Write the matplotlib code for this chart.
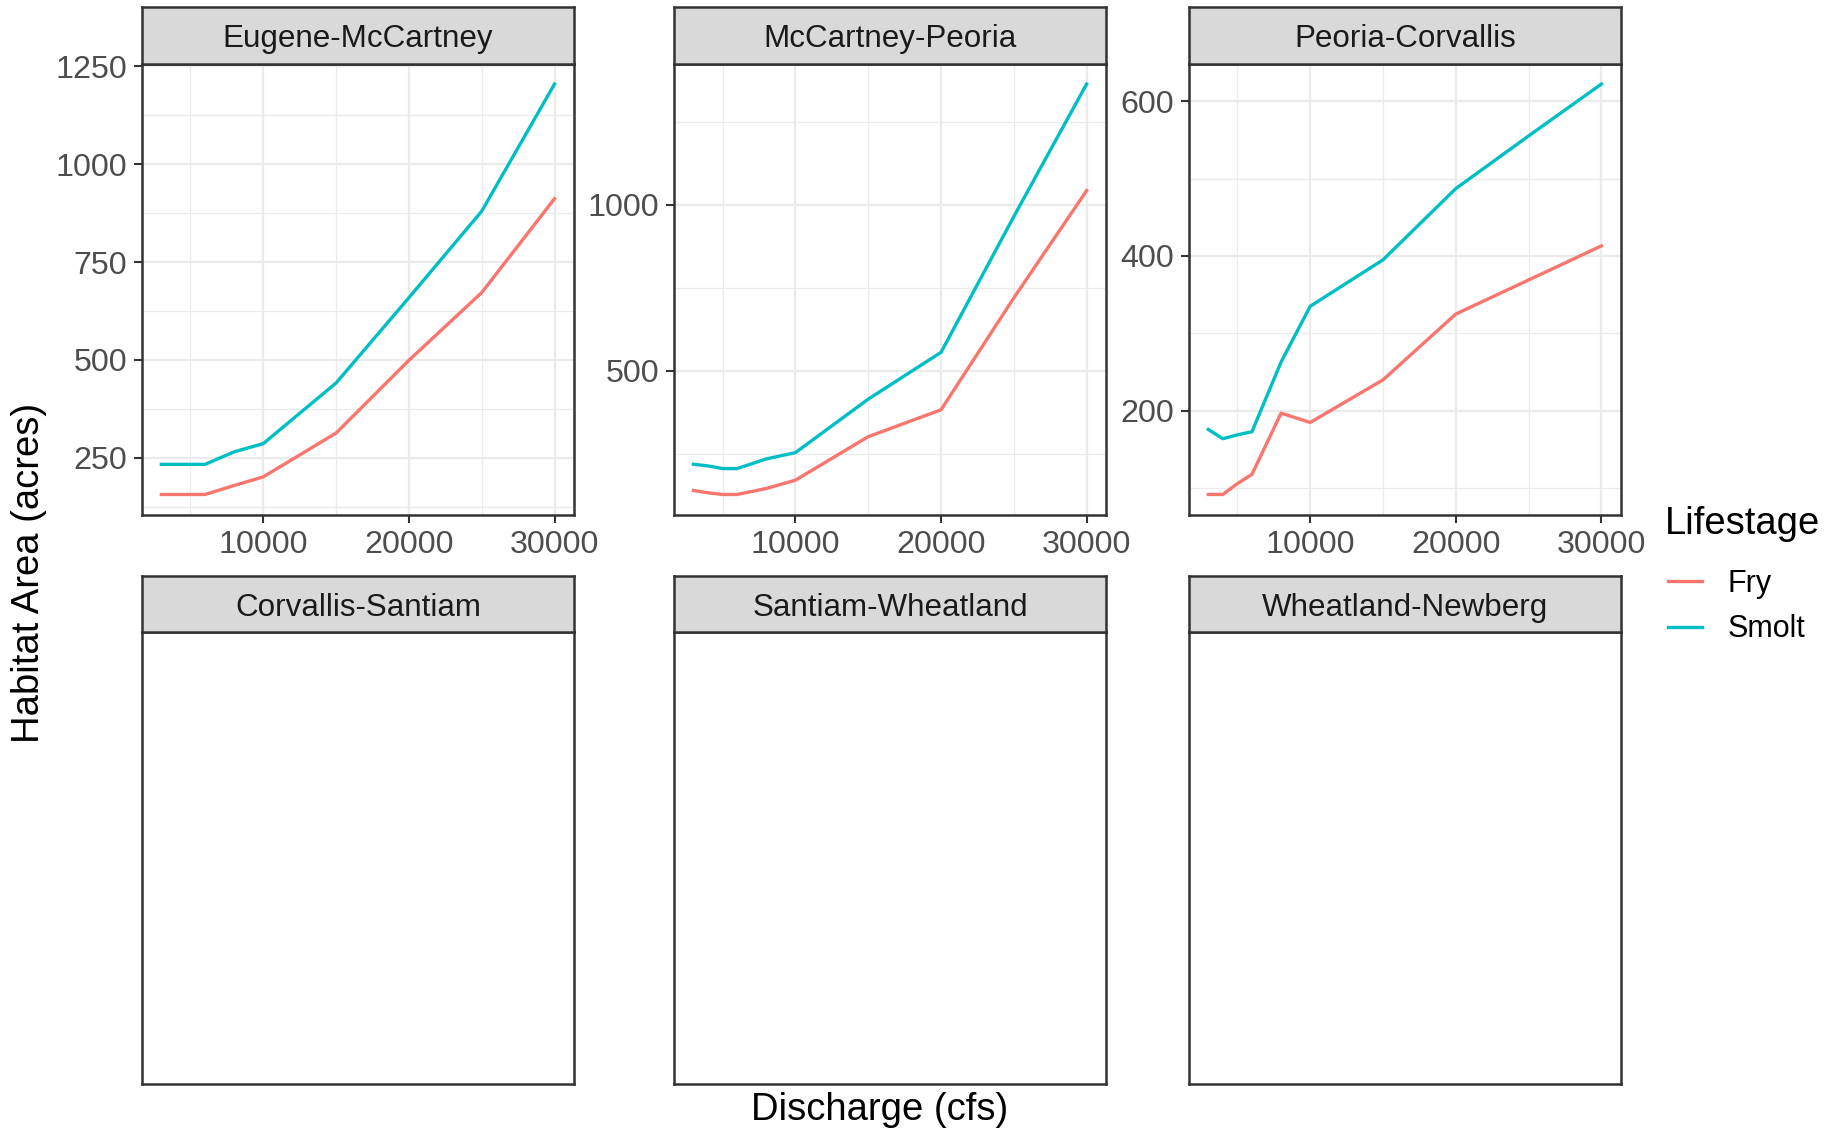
import matplotlib
matplotlib.use("Agg")
import matplotlib.pyplot as plt
from matplotlib.ticker import MultipleLocator, AutoMinorLocator
from matplotlib.lines import Line2D

plt.rcParams['font.family'] = ['Liberation Sans', 'DejaVu Sans']

# discharge steps (cfs)
discharge = [3000, 4000, 5000, 6000, 8000, 10000, 15000, 20000, 25000, 30000]

reaches = ["Eugene-McCartney", "McCartney-Peoria", "Peoria-Corvallis",
           "Corvallis-Santiam", "Santiam-Wheatland", "Wheatland-Newberg"]

# habitat area (acres), only the first three reaches have data
fry_eugene = [156, 156, 156, 156, 179, 201, 313, 499, 672, 912]
smolt_eugene = [233, 233, 233, 233, 265, 286, 441, 659, 880, 1205]
fry_mccartney = [140, 133, 128, 128, 146, 171, 302, 383, 720, 1043]
smolt_mccartney = [219, 214, 206, 206, 235, 254, 415, 556, 965, 1364]
fry_peoria = [92, 92, 106, 118, 197, 185, 240, 325, 369, 413]
smolt_peoria = [176, 164, 169, 173, 263, 335, 395, 487, 555, 622]

fry_data = [fry_eugene, fry_mccartney, fry_peoria, None, None, None]
smolt_data = [smolt_eugene, smolt_mccartney, smolt_peoria, None, None, None]
y_steps = [250, 500, 200]

c_fry = '#F8766D'
c_smolt = '#00BFC4'
border = '#333333'

W, H = 1843, 1131
fig = plt.figure(figsize=(W / 100, H / 100), dpi=100)


def box(left, top, w, h):
    return [left / W, 1 - (top + h) / H, w / W, h / H]


col_left = [141.7, 673.8, 1188.6]
row_top = [63.5, 632]
pw, ph = 432.5, 451.5
strip_h = 56.5

for i, name in enumerate(reaches):
    r, c = divmod(i, 3)
    ax = fig.add_axes(box(col_left[c], row_top[r], pw, ph))
    for s in ax.spines.values():
        s.set_color(border)
        s.set_linewidth(1.8)
    if fry_data[i] is not None:
        ax.plot(discharge, fry_data[i], color=c_fry, lw=2.4)
        ax.plot(discharge, smolt_data[i], color=c_smolt, lw=2.4)
        ax.xaxis.set_major_locator(MultipleLocator(10000))
        ax.xaxis.set_minor_locator(AutoMinorLocator(2))
        ax.yaxis.set_major_locator(MultipleLocator(y_steps[c]))
        ax.yaxis.set_minor_locator(AutoMinorLocator(2))
        ax.grid(which='major', color='#EBEBEB', lw=1.6)
        ax.grid(which='minor', color='#EBEBEB', lw=0.9)
        ax.set_axisbelow(True)
        ax.tick_params(which='major', length=5.5, width=1.5, color=border,
                       labelsize=23.2, labelcolor='#4D4D4D', pad=5)
        ax.tick_params(axis='x', which='major', pad=5.5)
        ax.tick_params(which='minor', length=0)
    else:
        ax.set_xticks([])
        ax.set_yticks([])

    sax = fig.add_axes(box(col_left[c], row_top[r] - strip_h, pw, strip_h))
    sax.set_facecolor('#D9D9D9')
    sax.set_xticks([])
    sax.set_yticks([])
    for s in sax.spines.values():
        s.set_color(border)
        s.set_linewidth(1.8)
    sax.text(0.5, 0.43, name, ha='center', va='center', fontsize=22.6,
             color='#1A1A1A', transform=sax.transAxes)

fig.text(29 / W, 1 - 573 / H, 'Habitat Area (acres)', rotation=90,
         ha='center', va='center', fontsize=27.5)
fig.text(880 / W, 1 - 1110 / H, 'Discharge (cfs)', ha='center',
         va='center', fontsize=27.5)

# legend: title drawn on its own, keys below it
fig.text(1665 / W, 1 - 524 / H, 'Lifestage', ha='left', va='center',
         fontsize=27.5)
handles = [Line2D([], [], color=c_fry, lw=2.4),
           Line2D([], [], color=c_smolt, lw=2.4)]
fig.legend(handles, ['Fry', 'Smolt'], loc='upper left',
           bbox_to_anchor=(1668 / W, 1 - 569 / H), frameon=False, fontsize=22,
           handlelength=1.1, handletextpad=0.86, labelspacing=0.5,
           borderaxespad=0, borderpad=0)

fig.savefig('out.png', dpi=100)
